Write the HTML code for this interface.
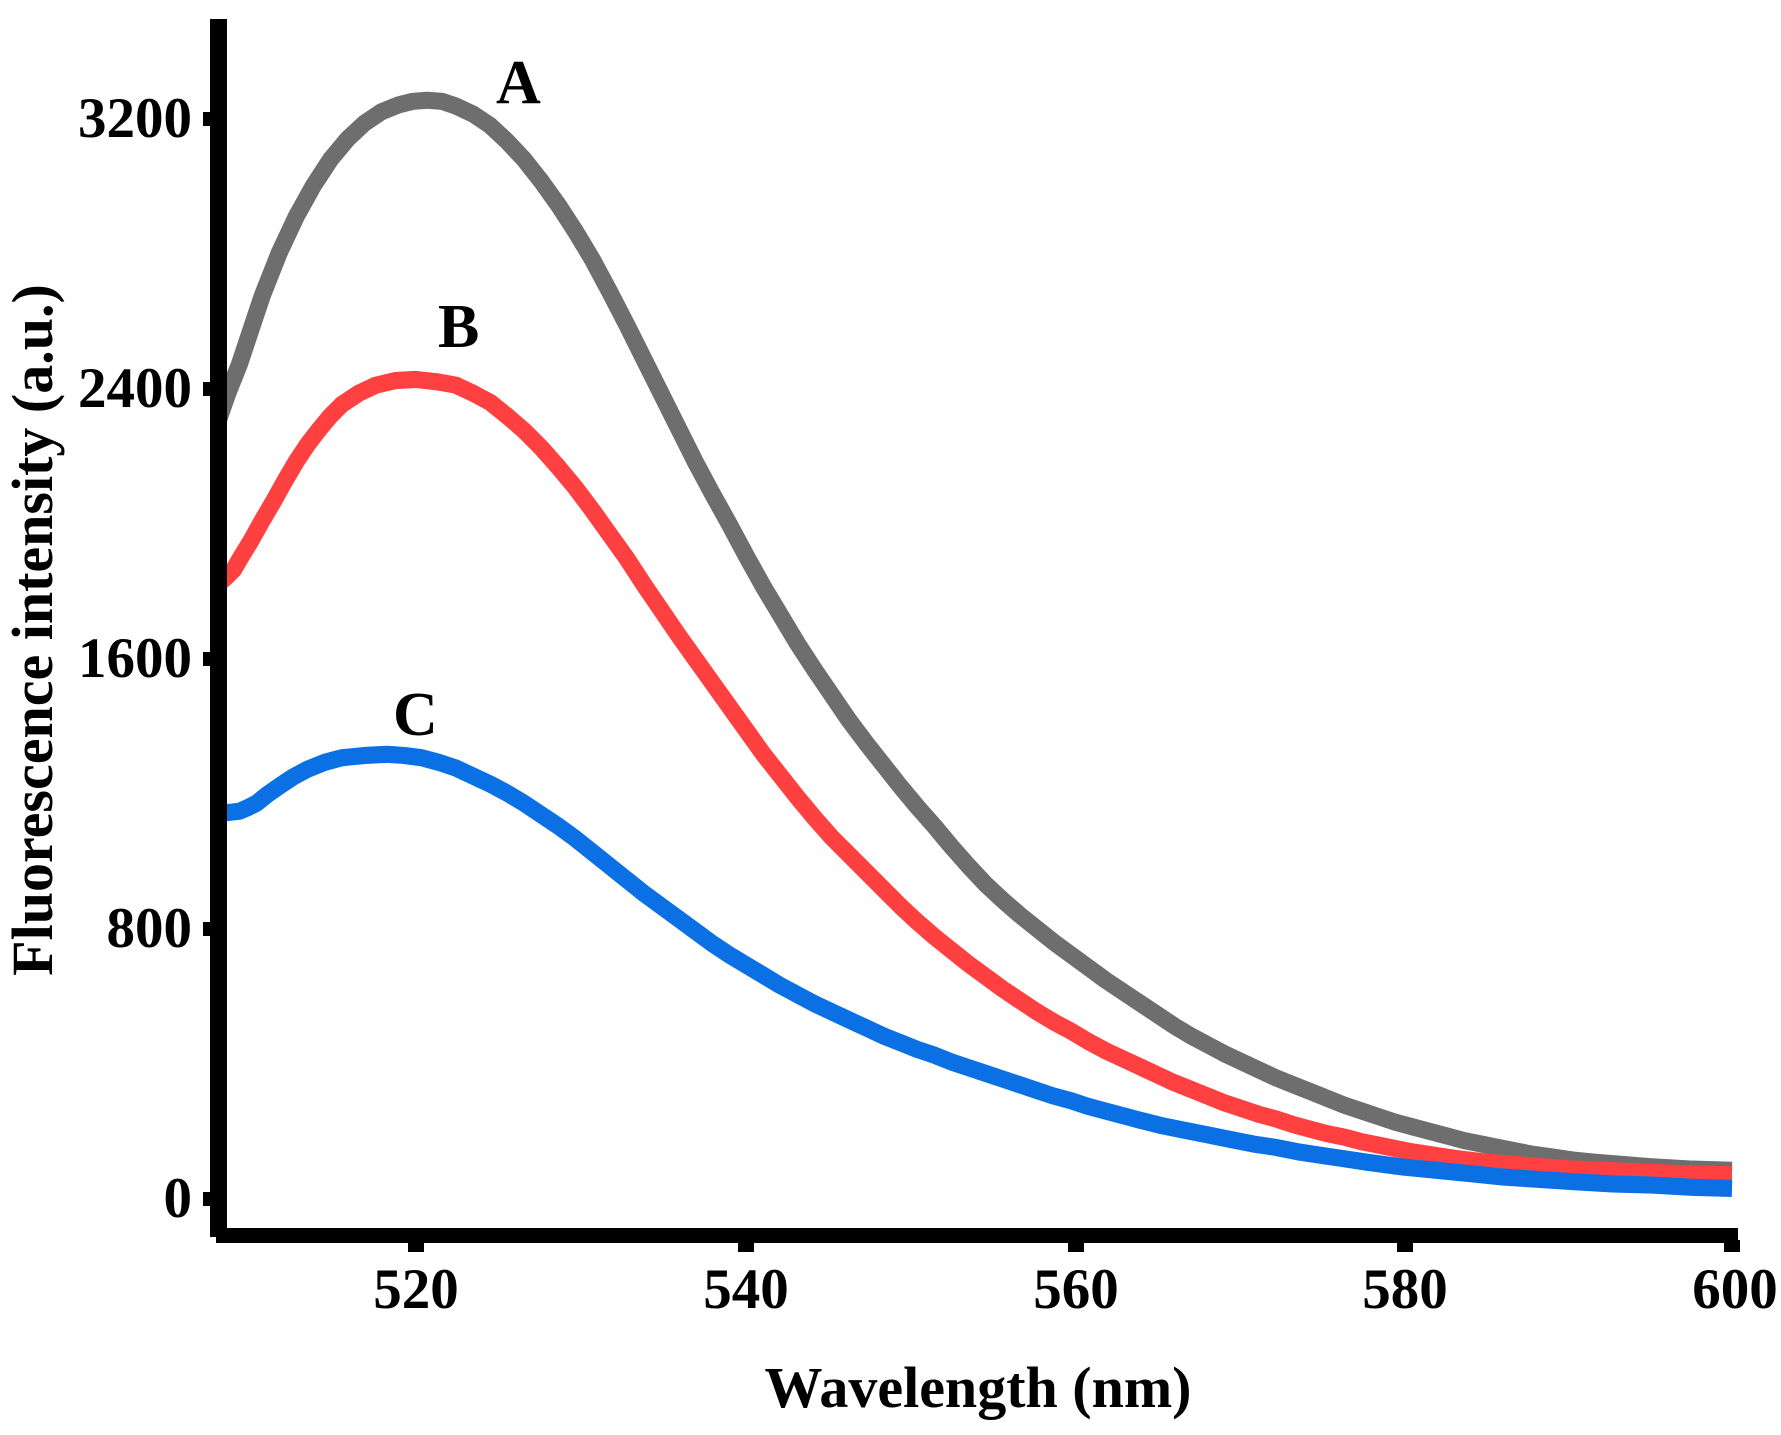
<!DOCTYPE html>
<html><head><meta charset="utf-8"><style>
html,body{margin:0;padding:0;background:#fff;}
svg{display:block;}
text{font-family:"Liberation Serif","DejaVu Serif",serif;font-weight:bold;fill:#000;}
</style></head><body>
<svg width="1781" height="1435" viewBox="0 0 1781 1435" xmlns="http://www.w3.org/2000/svg">
<rect width="1781" height="1435" fill="#fff"/>
<g transform="scale(1.13947)" fill="none" stroke-linejoin="round" stroke-width="15">
<polyline stroke="#6e6e6e" points="192,368 200,345 210,320 220,290 230,260 245,222 260,190 275,163 290,140 305,122 320,108 335,98 350,92 362,89 375,88 388,89 400,93 415,100 430,110 445,124 460,140 475,159 490,180 505,203 520,228 535,256 550,285 565,315 580,345 595,375 610,405 625,433 640,460 655,488 670,515 685,540 700,565 715,588 730,610 745,632 760,652 775,671 790,690 805,708 820,725 835,743 850,760 865,776 880,790 895,803 910,815 925,827 940,838 955,849 970,860 985,870 1000,880 1015,890 1030,900 1045,909 1060,917 1075,925 1090,932 1105,939 1120,946 1135,952 1150,958 1165,964 1180,970 1195,975 1210,980 1225,985 1240,989 1255,993 1270,997 1285,1001 1300,1004 1315,1007 1330,1010 1345,1013 1360,1015 1380,1018 1400,1020 1425,1022 1450,1024 1485,1026 1520,1027"/>
<polyline stroke="#ff4040" points="192,512 198,507 205,500 212,488 220,475 230,457 240,440 250,422 260,405 270,390 280,377 290,365 300,355 315,345 330,338 347,334 365,333 383,335 400,338 415,345 430,353 445,365 460,378 475,393 490,410 505,428 520,448 535,469 550,490 565,513 580,535 595,557 610,578 625,599 640,620 655,641 670,662 685,681 700,700 715,718 730,735 745,750 760,765 775,780 790,795 805,809 820,822 835,834 850,846 865,857 880,868 895,878 910,888 925,897 940,905 955,914 970,922 985,929 1000,936 1015,943 1030,950 1045,956 1060,962 1075,968 1090,973 1105,978 1120,982 1135,987 1150,991 1165,995 1180,998 1195,1002 1210,1005 1225,1008 1240,1011 1260,1014 1280,1017 1305,1020 1330,1022 1355,1024 1380,1026 1405,1027 1430,1028 1475,1030 1520,1031"/>
<polyline stroke="#0a70e4" points="192,713 201,713 210,712 217,709 225,705 235,697 245,690 257,682 270,675 285,669 300,665 320,663 340,662 355,663 370,665 385,669 400,674 415,681 430,688 445,696 460,705 475,715 490,725 505,736 520,748 535,760 550,772 565,784 580,795 595,806 610,817 625,828 640,838 655,847 670,856 685,865 700,873 715,881 730,888 745,895 760,902 775,909 790,915 805,921 820,926 835,932 850,937 865,942 880,947 895,952 910,957 925,962 940,966 955,971 970,975 985,979 1000,983 1020,988 1040,992 1060,996 1080,1000 1100,1004 1120,1007 1140,1011 1160,1014 1180,1017 1200,1020 1230,1024 1260,1027 1290,1030 1320,1033 1350,1035 1380,1037 1415,1039 1450,1040 1485,1042 1520,1043"/>
</g>
<!-- axes -->
<rect x="210" y="19" width="17" height="1218" fill="#000"/>
<rect x="216" y="1228" width="1522" height="15" fill="#000"/>
<g fill="#000">
<rect x="203" y="112" width="10" height="14"/>
<rect x="203" y="382" width="10" height="14"/>
<rect x="203" y="652" width="10" height="14"/>
<rect x="203" y="922" width="10" height="14"/>
<rect x="203" y="1192" width="10" height="14"/>
<rect x="408" y="1240" width="16" height="12"/>
<rect x="738" y="1240" width="16" height="12"/>
<rect x="1068" y="1240" width="16" height="12"/>
<rect x="1397" y="1240" width="16" height="12"/>
<rect x="1724" y="1240" width="16" height="12"/>
</g>
<g font-size="57" text-anchor="end">
<text x="192" y="137">3200</text>
<text x="192" y="407">2400</text>
<text x="192" y="677">1600</text>
<text x="192" y="947">800</text>
<text x="192" y="1217">0</text>
</g>
<g font-size="57" text-anchor="middle">
<text x="416" y="1308">520</text>
<text x="746" y="1308">540</text>
<text x="1076" y="1308">560</text>
<text x="1405" y="1308">580</text>
<text x="1735" y="1308">600</text>
</g>
<text x="978" y="1407" font-size="58" text-anchor="middle">Wavelength (nm)</text>
<text transform="translate(52,630) rotate(-90)" font-size="58" text-anchor="middle">Fluorescence intensity (a.u.)</text>
<g font-size="62">
<text x="496" y="103">A</text>
<text x="438" y="347">B</text>
<text x="393" y="735">C</text>
</g>
</svg>
</body></html>
